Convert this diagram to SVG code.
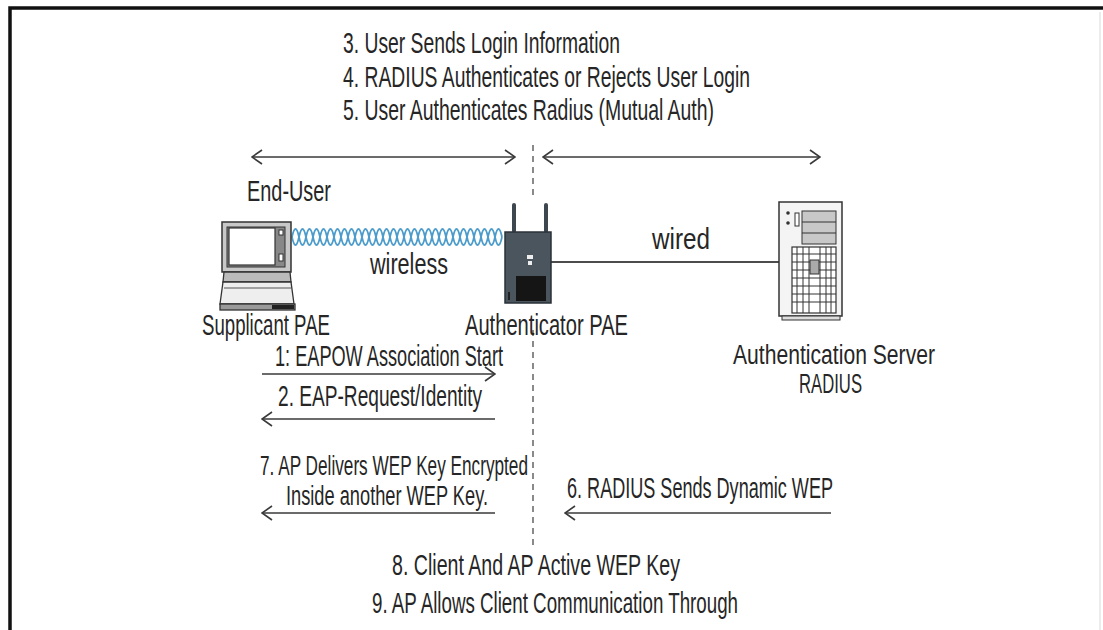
<svg xmlns="http://www.w3.org/2000/svg" width="1103" height="630" viewBox="0 0 1103 630">
  <defs>
    <style>
      .t { font-family: "Liberation Sans", Arial, sans-serif; font-size: 29px; fill: #262626; }
      .s { font-size: 27px; }
      .arrow { stroke: #3a3a3a; stroke-width: 1.6; fill: none; }
      .dash { stroke: #8a8a8a; stroke-width: 2; stroke-dasharray: 6 5; fill: none; }
      .helix { stroke: #4c9ccc; stroke-width: 1.8; fill: none; }
    </style>
    <marker id="head" viewBox="0 0 12 16" refX="11" refY="8" markerWidth="12" markerHeight="16" markerUnits="userSpaceOnUse" orient="auto-start-reverse">
      <path d="M1 1 L11 8 L1 15" fill="none" stroke="#3a3a3a" stroke-width="1.6"/>
    </marker>
  </defs>

  <rect width="1103" height="630" fill="#ffffff"/>
  <!-- frame -->
  <path d="M10 630 V8 H1103" fill="none" stroke="#111" stroke-width="3.5"/>
  <line x1="1100" y1="12" x2="1100" y2="630" stroke="#e6e6e6" stroke-width="1.5"/>

  <!-- header steps -->
  <g id="steps-top">
    <text class="t" x="343" y="53" textLength="277" lengthAdjust="spacingAndGlyphs">3. User Sends Login Information</text>
    <text class="t" x="343" y="87" textLength="407" lengthAdjust="spacingAndGlyphs">4. RADIUS Authenticates or Rejects User Login</text>
    <text class="t" x="343" y="120" textLength="371" lengthAdjust="spacingAndGlyphs">5. User Authenticates Radius (Mutual Auth)</text>
  </g>

  <!-- connectors -->
  <g id="connectors">
    <line class="dash" x1="533" y1="145" x2="533" y2="200"/>
    <line class="dash" x1="533" y1="330" x2="533" y2="545"/>
    <line class="arrow" x1="252" y1="157" x2="515" y2="157" marker-start="url(#head)" marker-end="url(#head)"/>
    <line class="arrow" x1="543" y1="157" x2="820" y2="157" marker-start="url(#head)" marker-end="url(#head)"/>
    <!-- wireless link -->
    <path class="helix" d="M292 237 q3.5 -16 7 0 t7 0 t7 0 t7 0 t7 0 t7 0 t7 0 t7 0 t7 0 t7 0 t7 0 t7 0 t7 0 t7 0 t7 0 t7 0 t7 0 t7 0 t7 0 t7 0 t7 0 t7 0 t7 0 t7 0 t7 0 t7 0 t7 0 t7 0 t7 0 t7 0"/>
    <path class="helix" d="M292 237 q3.5 16 7 0 t7 0 t7 0 t7 0 t7 0 t7 0 t7 0 t7 0 t7 0 t7 0 t7 0 t7 0 t7 0 t7 0 t7 0 t7 0 t7 0 t7 0 t7 0 t7 0 t7 0 t7 0 t7 0 t7 0 t7 0 t7 0 t7 0 t7 0 t7 0 t7 0"/>
    <!-- wired link -->
    <line x1="551" y1="262" x2="780" y2="262" stroke="#111" stroke-width="1.6"/>
    <!-- message arrows -->
    <line class="arrow" x1="262" y1="374" x2="495" y2="374" marker-end="url(#head)"/>
    <line class="arrow" x1="495" y1="419" x2="262" y2="419" marker-end="url(#head)"/>
    <line class="arrow" x1="495" y1="513" x2="262" y2="513" marker-end="url(#head)"/>
    <line class="arrow" x1="831" y1="513" x2="565" y2="513" marker-end="url(#head)"/>
  </g>

  <!-- link labels -->
  <text class="t" x="370" y="274" textLength="78" lengthAdjust="spacingAndGlyphs">wireless</text>
  <text class="t" x="652" y="249" textLength="58" lengthAdjust="spacingAndGlyphs">wired</text>

  <!-- supplicant laptop -->
  <g id="supplicant">
    <text class="t" x="247" y="201" textLength="84" lengthAdjust="spacingAndGlyphs">End-User</text>
    <rect x="222" y="222" width="69" height="50" fill="#c8c8c8" stroke="#333" stroke-width="1.5"/>
    <rect x="227" y="227" width="58" height="40" fill="#888" stroke="#333" stroke-width="1"/>
    <rect x="229" y="228" width="46" height="37" fill="#ffffff" stroke="#333" stroke-width="1.2"/>
    <rect x="279" y="230" width="4" height="5" fill="#fff" stroke="#333" stroke-width="1"/>
    <rect x="279" y="254" width="4" height="7" fill="#fff" stroke="#333" stroke-width="1"/>
    <path d="M224 272 H290 L291 282 H223 Z" fill="#bbb" stroke="#333" stroke-width="1.3"/>
    <path d="M223 282 H291 L294 304 H220 Z" fill="#eee" stroke="#333" stroke-width="1.3"/>
    <line x1="224" y1="288" x2="291" y2="288" stroke="#555" stroke-width="1"/>
    <rect x="220" y="304" width="75" height="6" fill="#999" stroke="#333" stroke-width="1.3"/>
    <rect x="272" y="305" width="22" height="4" fill="#222"/>
    <text class="t" x="202" y="335" textLength="128" lengthAdjust="spacingAndGlyphs">Supplicant PAE</text>
  </g>

  <!-- authenticator access point -->
  <g id="authenticator">
    <rect x="512" y="203" width="4" height="30" rx="2" fill="#3d474f"/>
    <rect x="544" y="203" width="4" height="30" rx="2" fill="#3d474f"/>
    <rect x="505" y="232" width="46" height="71" fill="#4a555e" stroke="#2a3238" stroke-width="1.5"/>
    <rect x="516" y="276" width="30" height="25" fill="#151515"/>
    <rect x="527" y="255" width="6" height="4" fill="#eee"/>
    <rect x="528" y="261" width="4" height="4" fill="#eee"/>
    <rect x="508" y="292" width="2" height="8" fill="#222"/>
    <text class="t" x="465" y="335" textLength="163" lengthAdjust="spacingAndGlyphs">Authenticator PAE</text>
  </g>

  <!-- authentication server tower -->
  <g id="server">
    <rect x="779" y="202" width="63" height="114" fill="#f4f4f4" stroke="#333" stroke-width="1.5"/>
    <rect x="782" y="316" width="58" height="4" fill="#ddd" stroke="#333" stroke-width="1"/>
    <rect x="802" y="211" width="34" height="33" fill="#c8c8c8" stroke="#333" stroke-width="1"/>
    <line x1="802" y1="222" x2="836" y2="222" stroke="#333" stroke-width="1"/>
    <line x1="802" y1="233" x2="836" y2="233" stroke="#333" stroke-width="1"/>
    <rect x="795" y="213" width="4" height="13" fill="#fff" stroke="#333" stroke-width="1"/>
    <circle cx="788" cy="213" r="1.8" fill="#333"/>
    <circle cx="788" cy="223" r="1.8" fill="#333"/>
    <rect x="792" y="247" width="44" height="66" fill="#fff" stroke="#333" stroke-width="1.2"/>
    <g stroke="#333" stroke-width="1">
      <line x1="792" y1="254" x2="836" y2="254"/>
      <line x1="792" y1="262" x2="836" y2="262"/>
      <line x1="792" y1="270" x2="836" y2="270"/>
      <line x1="792" y1="278" x2="836" y2="278"/>
      <line x1="792" y1="286" x2="836" y2="286"/>
      <line x1="792" y1="294" x2="836" y2="294"/>
      <line x1="792" y1="302" x2="836" y2="302"/>
      <line x1="797" y1="247" x2="797" y2="313"/>
      <line x1="803" y1="247" x2="803" y2="313"/>
      <line x1="809" y1="247" x2="809" y2="313"/>
      <line x1="820" y1="247" x2="820" y2="313"/>
      <line x1="826" y1="247" x2="826" y2="313"/>
      <line x1="831" y1="247" x2="831" y2="313"/>
    </g>
    <rect x="810" y="260" width="9" height="14" fill="#aaa" stroke="#333" stroke-width="1"/>
    <text class="t s" x="733" y="364" textLength="202" lengthAdjust="spacingAndGlyphs">Authentication Server</text>
    <text class="t s" x="799" y="393" textLength="63" lengthAdjust="spacingAndGlyphs">RADIUS</text>
  </g>

  <!-- message labels -->
  <g id="messages">
    <text class="t" x="275" y="366" textLength="228" lengthAdjust="spacingAndGlyphs">1: EAPOW Association Start</text>
    <text class="t" x="278" y="406" textLength="204" lengthAdjust="spacingAndGlyphs">2. EAP-Request/Identity</text>
    <text class="t s" x="260" y="475" textLength="268" lengthAdjust="spacingAndGlyphs">7. AP Delivers WEP Key Encrypted</text>
    <text class="t s" x="286" y="505" textLength="202" lengthAdjust="spacingAndGlyphs">Inside another WEP Key.</text>
    <text class="t" x="567" y="498" textLength="266" lengthAdjust="spacingAndGlyphs">6. RADIUS Sends Dynamic WEP</text>
  </g>

  <!-- closing steps -->
  <g id="steps-bottom">
    <text class="t" x="392" y="575" textLength="288" lengthAdjust="spacingAndGlyphs">8. Client And AP Active WEP Key</text>
    <text class="t" x="372" y="613" textLength="366" lengthAdjust="spacingAndGlyphs">9. AP Allows Client Communication Through</text>
  </g>
</svg>
